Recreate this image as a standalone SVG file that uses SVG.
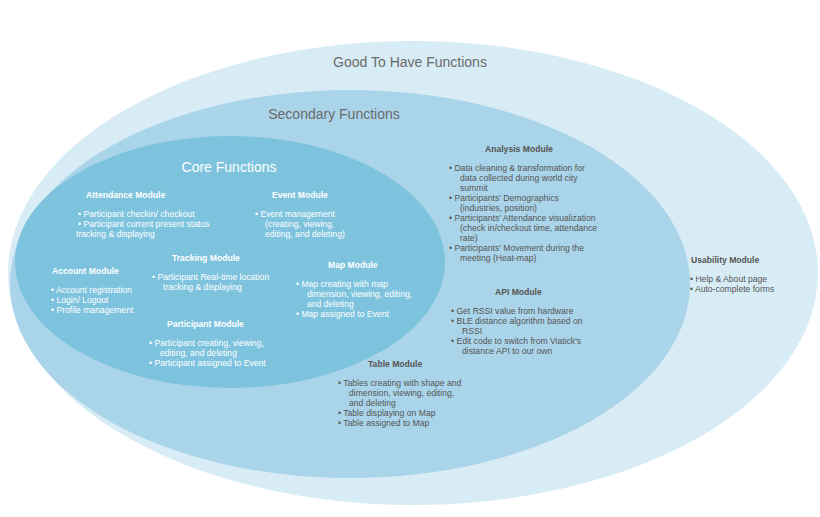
<svg xmlns="http://www.w3.org/2000/svg" width="820" height="517" viewBox="0 0 820 517">
<style>
text{font-family:"Liberation Sans",Arial,sans-serif;font-size:8.6px}
.t{font-size:14px;fill:#6a6a6a}
.h{font-weight:bold;fill:#fff}
.w{fill:#fff}
.hd{font-weight:bold;fill:#555}
.d{fill:#555}
</style>
<rect width="820" height="517" fill="#fff"/>
<g id="good"><ellipse cx="413" cy="273" rx="405" ry="232" fill="#d7ecf5"/>
<text class="t" x="410" y="67" text-anchor="middle">Good To Have Functions</text></g>
<g id="secondary"><ellipse cx="350" cy="284" rx="340" ry="194" fill="#aad4e9"/>
<text class="t" x="334" y="119" text-anchor="middle">Secondary Functions</text></g>
<g id="core"><ellipse cx="230" cy="262" rx="215" ry="126" fill="#7ec3dd"/>
<text class="t" x="229" y="172" text-anchor="middle" fill="#fff" style="fill:#fff">Core Functions</text></g>
<g id="attendance"><text class="h" x="86" y="198">Attendance Module</text>
<text class="w" x="78" y="217">•  Participant checkin/ checkout</text>
<text class="w" x="78" y="227">•  Participant current present status</text>
<text class="w" x="76" y="237">   tracking &amp; displaying</text></g>
<g id="event"><text class="h" x="272" y="198">Event Module</text>
<text class="w" x="255" y="217">•  Event management</text>
<text class="w" x="265" y="227">(creating, viewing,</text>
<text class="w" x="265" y="237">editing, and deleting)</text></g>
<g id="tracking"><text class="h" x="172" y="261">Tracking Module</text>
<text class="w" x="152" y="280">•  Participant Real-time location</text>
<text class="w" x="163" y="290">tracking &amp; displaying</text></g>
<g id="account"><text class="h" x="52" y="274">Account Module</text>
<text class="w" x="51" y="293">•  Account registration</text>
<text class="w" x="51" y="303">•  Login/ Logout</text>
<text class="w" x="51" y="313">•  Profile management</text></g>
<g id="map"><text class="h" x="328" y="268">Map Module</text>
<text class="w" x="296" y="287">•  Map creating with map</text>
<text class="w" x="307" y="297">dimension, viewing, editing,</text>
<text class="w" x="307" y="307">and deleting</text>
<text class="w" x="296" y="317">•  Map assigned to Event</text></g>
<g id="participant"><text class="h" x="167" y="327">Participant Module</text>
<text class="w" x="149" y="346">•  Participant creating, viewing,</text>
<text class="w" x="160" y="356">editing, and deleting</text>
<text class="w" x="149" y="366">•  Participant assigned to Event</text></g>
<g id="table"><text class="hd" x="368" y="367">Table Module</text>
<text class="d" x="338" y="386">•  Tables creating with shape and</text>
<text class="d" x="349" y="396">dimension, viewing, editing,</text>
<text class="d" x="349" y="406">and deleting</text>
<text class="d" x="338" y="416">•  Table displaying on Map</text>
<text class="d" x="338" y="426">•  Table assigned to Map</text></g>
<g id="analysis"><text class="hd" x="485" y="152">Analysis Module</text>
<text class="d" x="449" y="171">•  Data cleaning &amp; transformation for</text>
<text class="d" x="460" y="181">data collected during world city</text>
<text class="d" x="460" y="191">summit</text>
<text class="d" x="449" y="201">•  Participants' Demographics</text>
<text class="d" x="460" y="211">(industries, position)</text>
<text class="d" x="449" y="221">•  Participants' Attendance visualization</text>
<text class="d" x="460" y="231">(check in/checkout time, attendance</text>
<text class="d" x="460" y="241">rate)</text>
<text class="d" x="449" y="251">•  Participants' Movement during the</text>
<text class="d" x="460" y="261">meeting (Heat-map)</text></g>
<g id="api"><text class="hd" x="495" y="295">API Module</text>
<text class="d" x="451" y="314">•  Get RSSI value from hardware</text>
<text class="d" x="451" y="324">•  BLE distance algorithm based on</text>
<text class="d" x="462" y="334">RSSI</text>
<text class="d" x="451" y="344">•  Edit code to switch from Viatick's</text>
<text class="d" x="462" y="354">distance API to our own</text></g>
<g id="usability"><text class="hd" x="691" y="263">Usability Module</text>
<text class="d" x="690" y="282">•  Help &amp; About page</text>
<text class="d" x="690" y="292">•  Auto-complete forms</text></g>
<g id="connectors"/>
</svg>
